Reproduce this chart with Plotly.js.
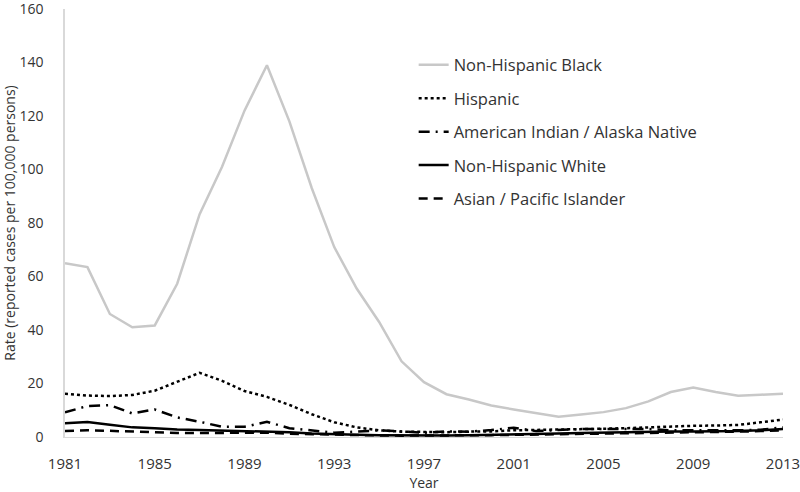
<!DOCTYPE html>
<html>
<head>
<meta charset="utf-8">
<script src="https://cdn.plot.ly/plotly-3.0.1.min.js"></script>
<style>
  body { margin: 0; background: #fff; }
  #grafico { width: 800px; height: 492px; }
</style>
</head>
<body>
<div id="grafico"></div>
<script>
// Años del eje X
const years = [];
for (let y = 1981; y <= 2013; y++) years.push(y);

// Tasas (casos por 100.000 personas)
const negroNoHispano = [65, 63.5, 46, 41, 41.7, 57.3, 83.3, 101, 122, 139, 118, 93, 71, 55.5, 43, 28.3, 20.5, 16, 14, 11.8, 10.3, 9, 7.6, 8.4, 9.3, 10.8, 13.3, 16.8, 18.5, 16.8, 15.4, 15.8, 16.2];
const hispano = [16.2, 15.5, 15.3, 15.7, 17.3, 20.5, 24, 21, 17.2, 15, 12, 8.5, 5.5, 3.6, 2.5, 2, 1.9, 1.8, 2, 2.1, 2.5, 2.6, 2.8, 3, 3.1, 3.3, 3.6, 4, 4.2, 4.3, 4.5, 5.5, 6.5];
const indioAmericano = [9.2, 11.6, 11.9, 8.8, 10.3, 7.3, 5.7, 3.8, 3.8, 5.7, 3.3, 2.5, 1.6, 2, 2.5, 2.1, 1.6, 2.1, 2, 2.6, 3.5, 2.2, 2.6, 3, 3, 3, 3, 2.5, 2.6, 2.5, 2.5, 2.7, 3.6];
const blancoNoHispano = [5.1, 5.6, 4.6, 3.6, 3.3, 2.8, 2.6, 2.4, 2.4, 2.2, 1.8, 1.3, 1, 0.8, 0.7, 0.6, 0.6, 0.6, 0.7, 0.8, 1, 1, 1.3, 1.5, 1.7, 1.8, 2, 2.1, 2.1, 2.1, 2.2, 2.5, 3];
const asiatico = [2.2, 2.5, 2.3, 2, 1.8, 1.5, 1.5, 1.5, 1.5, 1.6, 1.2, 1, 0.8, 0.7, 0.6, 0.5, 0.5, 0.6, 0.6, 0.7, 0.8, 0.9, 1, 1.2, 1.3, 1.4, 1.6, 1.7, 1.8, 1.9, 2, 2.2, 2.5];

const nombres = ['Non-Hispanic Black', 'Hispanic', 'American Indian / Alaska Native', 'Non-Hispanic White', 'Asian / Pacific Islander'];
const series = [negroNoHispano, hispano, indioAmericano, blancoNoHispano, asiatico];
const colores = ['#c8c8c8', '#000', '#000', '#000', '#000'];
const guiones = ['solid', 'dot', '11px,6px,2px,6px', 'solid', '9px,6px'];

let datos = series.map((vals, i) => ({
  x: years,
  y: vals,
  type: 'scatter',
  mode: 'lines',
  name: nombres[i],
  legendgroup: 'g' + i,
  line: { color: colores[i], width: 2.5, dash: guiones[i] }
}));

const fuente = { family: 'Open Sans, sans-serif', size: 14, color: '#333' };

let layout = {
  width: 800,
  height: 492,
  margin: { l: 65, r: 17, t: 9, b: 55 },
  paper_bgcolor: '#fff',
  plot_bgcolor: '#fff',
  font: fuente,
  showlegend: true,
  legend: {
    x: 0.4856, y: 0.91, xanchor: 'left', yanchor: 'top',
    traceorder: 'grouped', tracegroupgap: 9,
    itemwidth: 30,
    font: { family: 'Open Sans, sans-serif', size: 16.5, color: '#333' }
  },
  xaxis: {
    range: [1981, 2013],
    tick0: 1981, dtick: 4,
    showgrid: false, zeroline: false,
    showline: true, linecolor: '#d9d9d9', linewidth: 1,
    ticks: 'outside', ticklen: 13, tickcolor: 'rgba(0,0,0,0)',
    ticklabeloverflow: 'allow',
    tickfont: { family: 'Open Sans, sans-serif', size: 15, color: '#333' },
    title: { text: 'Year', standoff: 13, font: fuente }
  },
  yaxis: {
    range: [0, 160],
    dtick: 20,
    showgrid: false, zeroline: false,
    showline: true, linecolor: '#d9d9d9', linewidth: 1.5,
    ticks: 'outside', ticklen: 17, tickcolor: 'rgba(0,0,0,0)',
    ticklabeloverflow: 'allow',
    title: { text: 'Rate (reported cases per 100,000 persons)', standoff: 1, font: fuente }
  }
};

Plotly.newPlot('grafico', datos, layout, { displayModeBar: false });
</script>
</body>
</html>
